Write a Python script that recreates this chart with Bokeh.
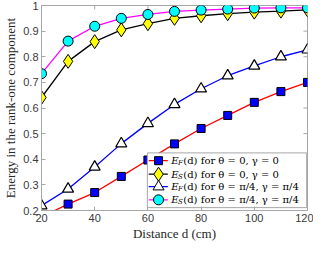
import math
from bokeh.plotting import figure
from bokeh.models import Range1d, FixedTicker
from bokeh.core.properties import value
from bokeh.embed import file_html
from bokeh.resources import INLINE

distance = [20, 30, 40, 50, 60, 70, 80, 90, 100, 110, 120]
ef_theta0 = [0.175, 0.225, 0.27, 0.333, 0.397, 0.46, 0.52, 0.571, 0.622, 0.664, 0.70]
es_theta0 = [0.641, 0.782, 0.859, 0.905, 0.929, 0.95, 0.96, 0.968, 0.974, 0.978, 0.983]
ef_pi4 = [0.219, 0.284, 0.37, 0.461, 0.54, 0.614, 0.675, 0.726, 0.764, 0.80, 0.827]
es_pi4 = [0.734, 0.861, 0.919, 0.95, 0.965, 0.977, 0.982, 0.986, 0.99, 0.991, 0.991]

x_ticks = [20, 40, 60, 80, 100, 120]
y_ticks = [0.2, 0.3, 0.4, 0.5, 0.6, 0.7, 0.8, 0.9, 1.0]

leg_main = ["E", "E", "E", "E"]
leg_sub = ["F", "S", "F", "S"]
leg_rest = ["(d) for θ = 0, γ = 0", "(d) for θ = 0, γ = 0",
            "(d) for θ = π/4, γ = π/4", "(d) for θ = π/4, γ = π/4"]

XR = (20, 120)
YR = (0.2, 1.0)

p = figure(width=313, height=243, output_backend="svg", toolbar_location=None,
           x_range=Range1d(*XR), y_range=Range1d(*YR),
           min_border_left=0, min_border_right=6, min_border_top=5, min_border_bottom=0)
p.background_fill_color = "white"
p.border_fill_color = "white"
p.outline_line_color = "#a6a6a6"
p.outline_line_width = 1
p.grid.visible = False

AX = "#a6a6a6"
for ax in (p.xaxis[0], p.yaxis[0]):
    ax.axis_line_color = AX
    ax.major_tick_line_color = AX
    ax.major_tick_in = 4
    ax.major_tick_out = 0
    ax.minor_tick_line_color = None
    ax.major_label_text_font = "Liberation Sans"
    ax.major_label_text_font_size = "11px"
    ax.major_label_text_color = "#3a3a3a"
    ax.axis_label_text_font = "Liberation Serif"
    ax.axis_label_text_font_size = "13px"
    ax.axis_label_text_font_style = "normal"
    ax.axis_label_text_color = "#262626"

p.xaxis.ticker = FixedTicker(ticks=x_ticks)
p.yaxis.ticker = FixedTicker(ticks=y_ticks)
p.yaxis.major_label_overrides = {1: "1"}
p.xaxis.axis_label = "Distance d (cm)"
p.yaxis.axis_label = "Energy in the rank-one component"
p.xaxis.major_label_standoff = 3
p.yaxis.major_label_standoff = 3
p.xaxis.axis_label_standoff = 1
p.yaxis.axis_label_standoff = 2

# inward ticks on the right and top edges (half of each dash is clipped by the frame)
p.scatter([XR[1]] * len(y_ticks), y_ticks, marker="dash", size=8, line_color=AX, line_width=1)
p.scatter(x_ticks, [YR[1]] * len(x_ticks), marker="dash", size=8, angle=math.pi / 2,
          line_color=AX, line_width=1)

# series
p.line(distance, ef_theta0, line_color="#ff0000", line_width=1.3)
p.scatter(distance, ef_theta0, marker="square", size=8, fill_color="#0000ff", line_color="black", line_width=1)
p.line(distance, es_theta0, line_color="black", line_width=1.3)
p.scatter(distance, es_theta0, marker="diamond", size=14, fill_color="#ffff00", line_color="black", line_width=1)
p.line(distance, ef_pi4, line_color="#0000ff", line_width=1.3)
p.scatter(distance, ef_pi4, marker="triangle", size=11, fill_color="white", line_color="black", line_width=1.2)
p.line(distance, es_pi4, line_color="#ff00ff", line_width=1.3)
p.scatter(distance, es_pi4, marker="circle", size=10, fill_color="#00ffff", line_color="black", line_width=1)

# manual legend (positions as fractions of the frame)
def fx(f):
    return XR[0] + f * (XR[1] - XR[0])

def fy(f):  # fraction from top
    return YR[1] - f * (YR[1] - YR[0])

p.quad(left=[fx(0.398)], right=[fx(0.997)], top=[fy(0.719)], bottom=[fy(0.986)],
       fill_color="white", line_color="#a6a6a6", line_width=1)

rows = [fy(0.757), fy(0.823), fy(0.884), fy(0.948)]
styles = [("#ff0000", "square", 8, "#0000ff"),
          ("black", "diamond", 14, "#ffff00"),
          ("#0000ff", "triangle", 11, "white"),
          ("#ff00ff", "circle", 10, "#00ffff")]
for ry, (lc, mk, sz, fc) in zip(rows, styles):
    p.line([fx(0.403), fx(0.475)], [ry, ry], line_color=lc, line_width=1.3)
    p.scatter([fx(0.44)], [ry], marker=mk, size=sz, fill_color=fc, line_color="black", line_width=1)

tx = fx(0.488)
p.text(x=[tx] * 4, y=rows, text=leg_main, text_font=value("DejaVu Serif"),
       text_font_style="italic", text_font_size="10px", text_baseline="middle", text_color="black")
p.text(x=[tx] * 4, y=rows, text=leg_sub, text_font=value("DejaVu Serif"), x_offset=6.8, y_offset=2.5,
       text_font_style="italic", text_font_size="7px", text_baseline="middle", text_color="black")
p.text(x=[tx] * 4, y=rows, text=leg_rest, text_font=value("DejaVu Serif"), x_offset=12,
       text_font_size="10px", text_baseline="middle", text_color="black")

open("out.html", "w").write(file_html(p, INLINE))
